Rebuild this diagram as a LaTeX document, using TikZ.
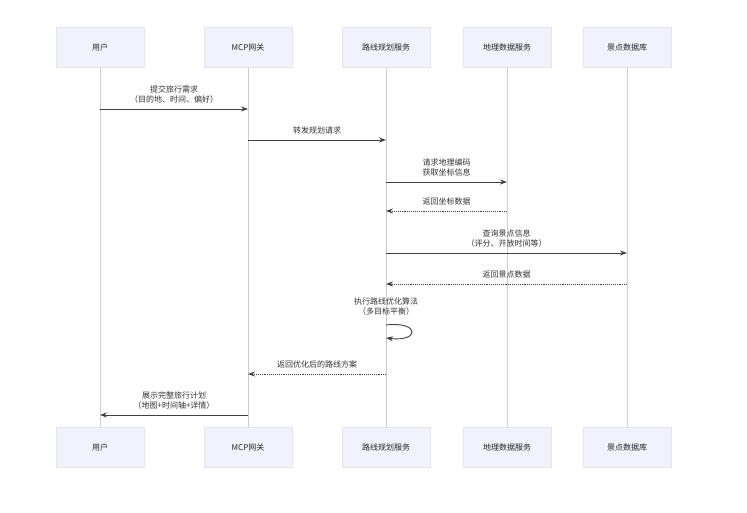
\documentclass[tikz,border=0pt]{standalone}
\usepackage{fontspec}
\setmainfont{Noto Sans CJK SC}
\usetikzlibrary{arrows.meta}
\begin{document}
\begin{tikzpicture}[x=1pt,y=-1pt,>={Stealth[length=7pt,width=5pt]},thick,font=\fontsize{8}{10}\selectfont]
      \tikzset{actor/.style={rectangle,draw=black!10,fill=blue!5!white,minimum width=88pt,minimum height=40pt,text=black!85},
        life/.style={draw=black!20,thin},
        msg/.style={->,draw=black!75,line width=0.9pt},
        ret/.style={msg,densely dotted},
        lbl/.style={align=center,text=black!80,inner sep=1pt}}
      \fill[white](0,0) rectangle (747,513);
      % lifelines
      \foreach \n/\x/\t in {user/100/用户,gw/248/MCP网关,route/386/路线规划服务,geo/507/地理数据服务,poi/627/景点数据库}{
        \node[actor](\n-top) at (\x,47.5){\t};
        \node[actor](\n-bot) at (\x,447){\t};
        \draw[life](\n-top)--(\n-bot);
      }
      % messages
      \coordinate(m1a) at (100,109);\coordinate(m1b) at (248,109);
      \draw[msg](m1a)--(m1b) node[lbl,midway,above=4pt]{提交旅行需求\\（目的地、时间、偏好）};
      \coordinate(m2a) at (248,140);\coordinate(m2b) at (386,140);
      \draw[msg](m2a)--(m2b) node[lbl,midway,above=4pt]{转发规划请求};
      \coordinate(m3a) at (386,182);\coordinate(m3b) at (507,182);
      \draw[msg](m3a)--(m3b) node[lbl,midway,above=4pt]{请求地理编码\\获取坐标信息};
      \coordinate(m4a) at (507,211);\coordinate(m4b) at (386,211);
      \draw[ret](m4a)--(m4b) node[lbl,midway,above=4pt]{返回坐标数据};
      \coordinate(m5a) at (386,253);\coordinate(m5b) at (627,253);
      \draw[msg](m5a)--(m5b) node[lbl,midway,above=4pt]{查询景点信息\\（评分、开放时间等）};
      \coordinate(m6a) at (627,284);\coordinate(m6b) at (386,284);
      \draw[ret](m6a)--(m6b) node[lbl,midway,above=4pt]{返回景点数据};
      \coordinate(m7a) at (386,325);\coordinate(m7b) at (386,338);
      \node[lbl](m7l) at (386,307){执行路线优化算法\\（多目标平衡）};
      \draw[msg](m7a) .. controls (420,321) and (420,342) .. (m7b);
      \coordinate(m8a) at (386,374);\coordinate(m8b) at (248,374);
      \draw[ret](m8a)--(m8b) node[lbl,midway,above=4pt]{返回优化后的路线方案};
      \coordinate(m9a) at (248,415);\coordinate(m9b) at (100,415);
      \draw[msg](m9a)--(m9b) node[lbl,midway,above=4pt]{展示完整旅行计划\\（地图+时间轴+详情）};
\end{tikzpicture}
\end{document}
